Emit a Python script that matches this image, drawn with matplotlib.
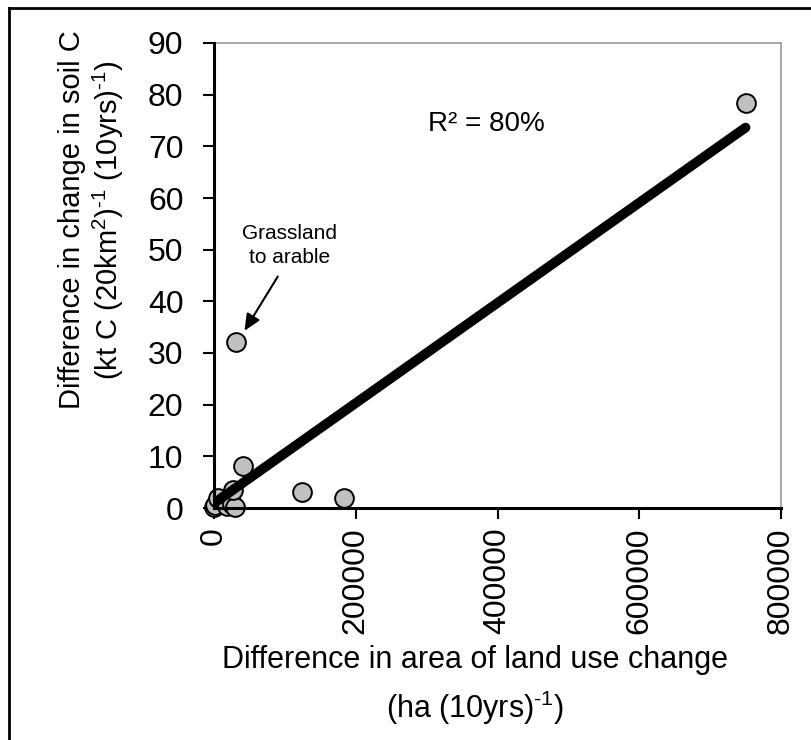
import matplotlib
matplotlib.use('Agg')
import matplotlib.pyplot as plt
from matplotlib.lines import Line2D
import numpy as np

plt.rcParams['font.family'] = ['Liberation Sans', 'DejaVu Sans']
plt.rcParams['mathtext.fontset'] = 'custom'
plt.rcParams['mathtext.rm'] = 'Liberation Sans'
plt.rcParams['mathtext.it'] = 'Liberation Sans:italic'

# difference in area of land use change (ha / 10yrs) vs difference in change in soil C
area_diff = [0, 1500, 6000, 18000, 25000, 30000, 27000, 31000, 41000, 124000, 183000, 750000]
soilc_diff = [0.2, 0.5, 2.0, 0.3, 0.8, 0.1, 3.4, 32.2, 8.1, 3.1, 1.9, 78.3]

x_ticks = [0, 200000, 400000, 600000, 800000]
y_ticks = [0, 10, 20, 30, 40, 50, 60, 70, 80, 90]

r2_text = 'R² = 80%'
note_text = 'Grassland\nto arable'

W, H = 812, 740
fig = plt.figure(figsize=(W / 100, H / 100), dpi=100)
ax = fig.add_axes([214 / W, 1 - 508 / H, (781 - 214) / W, (508 - 43) / H])

ax.plot(area_diff, soilc_diff, 'o', ms=13.5, mfc='#c0c0c0', mec='black', mew=1.4,
        zorder=2, clip_on=False)

# trend line (least squares), drawn over the points like in the original
slope, icpt = np.polyfit(area_diff, soilc_diff, 1)
xl = np.array([min(area_diff), max(area_diff)])
ax.plot(xl, slope * xl + icpt, color='black', lw=7, solid_capstyle='round', zorder=3)

ax.set_xlim(0, 800000)
ax.set_ylim(0, 90)
ax.set_xticks(x_ticks)
ax.set_yticks(y_ticks)
ax.set_xticklabels([str(v) for v in x_ticks], rotation=90)

for s in ['left', 'bottom']:
    ax.spines[s].set_linewidth(2.2)
    ax.spines[s].set_color('black')
    ax.spines[s].set_zorder(4)
for s in ['top', 'right']:
    ax.spines[s].set_linewidth(1.2)
    ax.spines[s].set_color('#9a9a9a')

ax.tick_params(axis='both', direction='out', length=8, width=1.5, labelsize=23, colors='black')
ax.tick_params(axis='y', pad=14)
ax.tick_params(axis='x', pad=6)

ax.text(385000, 74.4, r2_text, fontsize=20, ha='center', va='center')
ax.text(107000, 50.8, note_text, fontsize=15, ha='center', va='center', linespacing=1.3)
ax.annotate('', xy=(43000, 34.3), xytext=(90000, 44.8),
            arrowprops=dict(arrowstyle='-|>,head_length=1.0,head_width=0.45',
                            color='black', lw=1.5, shrinkA=0, shrinkB=0))

fig.text(92 / W, 1 - 220 / H,
         'Difference in change in soil C\n(kt C (20km$^{2}$)$^{\\text{-1}}$ (10yrs)$^{\\text{-1}}$)',
         rotation=90, ha='center', va='center', multialignment='center',
         fontsize=21, linespacing=1.15)
fig.text(475 / W, 1 - 686 / H,
         'Difference in area of land use change\n(ha (10yrs)$^{\\text{-1}}$)',
         ha='center', va='center', multialignment='center', fontsize=22, linespacing=1.45)

# outer frame (left and top edges only are visible)
fig.add_artist(Line2D([9 / W, 9 / W], [0, 1 - 8 / H], color='black', lw=2))
fig.add_artist(Line2D([9 / W, 1], [1 - 8 / H, 1 - 8 / H], color='black', lw=2))

fig.savefig('out.png', dpi=100)
